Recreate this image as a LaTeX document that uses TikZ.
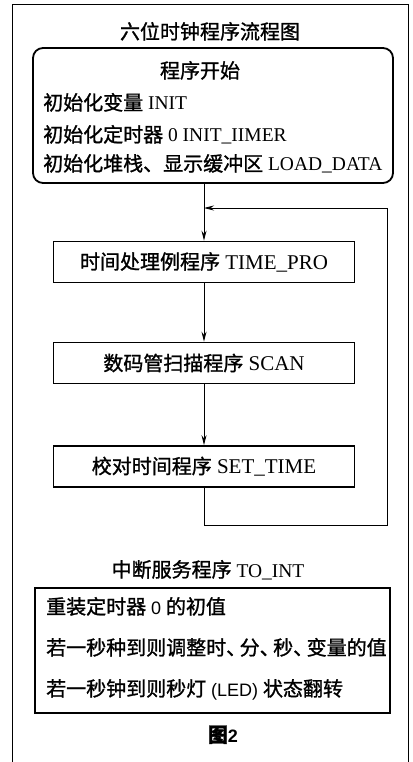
\documentclass[tikz,border=0pt]{standalone}
\usepackage{fontspec}
\setmainfont{Liberation Serif}
\newfontfamily\cjk{Noto Sans CJK SC}[RawFeature={embolden=1.2}]
\newfontfamily\lsans{Liberation Sans}
\usetikzlibrary{arrows.meta}
\newcommand\zh[1]{{\cjk\fontsize{20}{24}\selectfont #1}}
\newcommand\dun{、\kern-6.5pt}
\begin{document}
\begin{tikzpicture}[x=1pt,y=-1pt,
  txt/.style={inner sep=0pt, anchor=base, font=\fontsize{19.5}{22}\selectfont},
  ltxt/.style={inner sep=0pt, anchor=base west, font=\fontsize{19.5}{22}\selectfont},
  procbox/.style={draw, line width=1.6pt, minimum width=301pt, minimum height=41pt, inner sep=0pt, font=\fontsize{21}{24}\selectfont},
  frame/.style={line width=0.9pt},
  conn/.style={line width=0.9pt},
  arr/.style={conn, -{Stealth[length=10pt,width=5pt]}}]
\useasboundingbox (0,0) rectangle (412,762);
\draw[frame] (12,762) -- (12,4) -- (408,4) -- (408,762);

\node[txt] (title) at (210,39) {\zh{六位时钟程序流程图}};

\node[draw, rounded corners=10pt, line width=1.8pt, minimum width=360pt, minimum height=135pt, inner sep=0pt] (init) at (213,115.5) {};
\node[txt] (start) at (200,78) {\zh{程序开始}};
\node[ltxt] (l1) at (43,110) {\zh{初始化变量} INIT};
\node[ltxt] (l2) at (43,142) {\zh{初始化定时器} 0 INIT\_IIMER};
\node[ltxt] (l3) at (43,171) {\zh{初始化堆栈、显示缓冲区} LOAD\_DATA};

\node[procbox] (b1) at (204,262) {\zh{时间处理例程序} TIME\_PRO};
\node[procbox] (b2) at (204,363) {\zh{数码管扫描程序} SCAN};
\node[procbox] (b3) at (204,466.5) {\zh{校对时间程序} SET\_TIME};

\coordinate (fb) at (387,525);
\coordinate (j) at (204,208);
\draw[arr] (b1.north |- init.south) -- (b1.north);
\draw[arr] (b1.south) -- (b2.north);
\draw[arr] (b2.south) -- (b3.north);
\draw[arr] (b3.south) |- (fb) |- (j);

\node[txt] (isr) at (208,577) {\zh{中断服务程序} TO\_INT};
\node[draw, line width=1.8pt, minimum width=355pt, minimum height=125pt, inner sep=0pt] (isrbox) at (212.5,650.5) {};
\node[ltxt] (m1) at (46,614) {\zh{重装定时器} {\lsans\fontsize{18}{20}\selectfont 0} \zh{的初值}};
\node[ltxt] (m2) at (46,655) {\zh{若一秒种到则调整时\dun 分\dun 秒\dun 变量的值}};
\node[ltxt] (m3) at (46,696) {\zh{若一秒钟到则秒灯} {\lsans\fontsize{18}{20}\selectfont (LED)} \zh{状态翻转}};

\node[txt] (fig) at (223,742) {\zh{\bfseries 图}{\lsans\bfseries\fontsize{18}{20}\selectfont 2}};
\end{tikzpicture}
\end{document}
